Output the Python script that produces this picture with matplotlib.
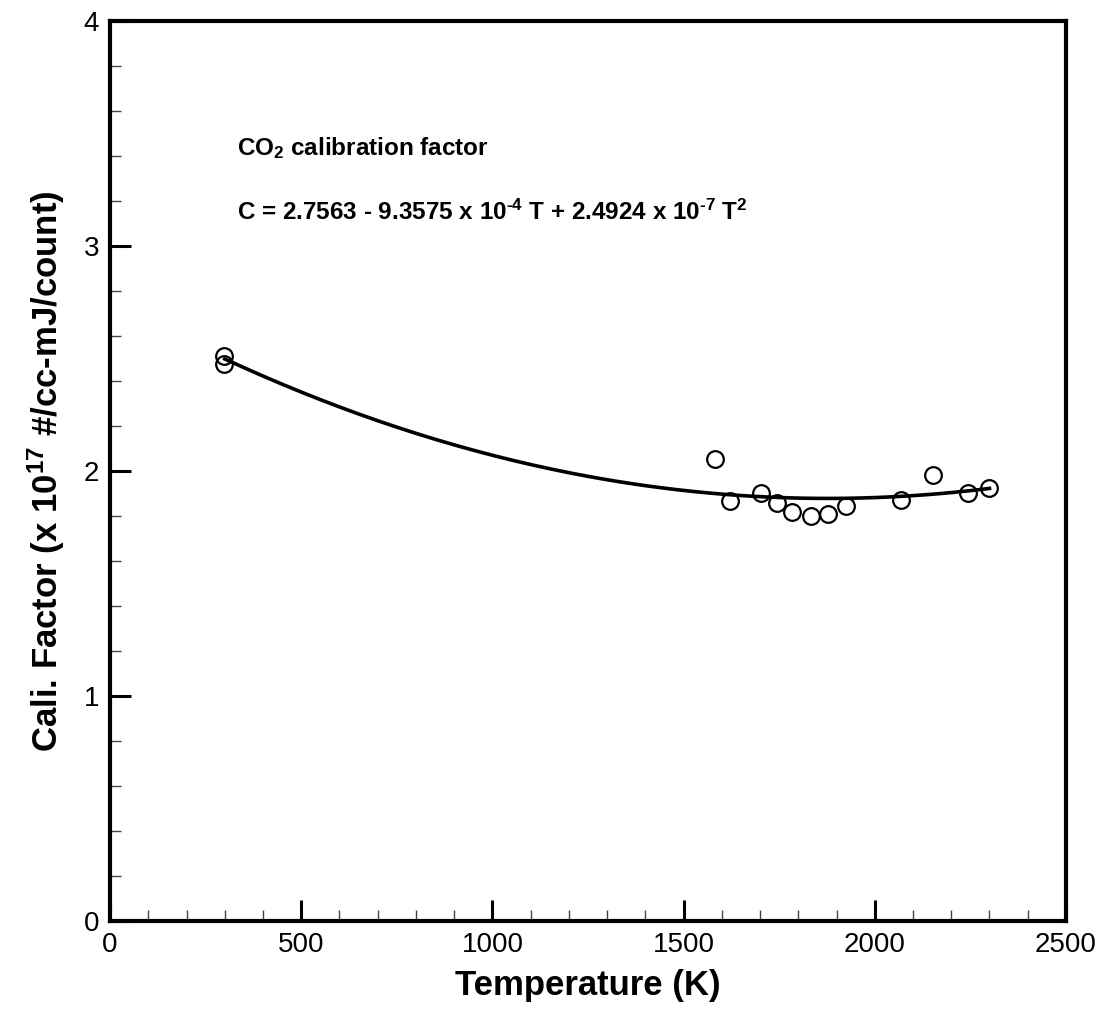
import numpy as np
import matplotlib
matplotlib.use("Agg")
import matplotlib.pyplot as plt
from matplotlib.ticker import MultipleLocator

plt.rcParams["font.family"] = ["Liberation Sans", "DejaVu Sans"]
plt.rcParams["mathtext.default"] = "regular"

# measured calibration factors
temp_k = [298, 298, 1582, 1621, 1702, 1744, 1784, 1833, 1877, 1925, 2068, 2152, 2244, 2299]
cali_factor = [2.51, 2.475, 2.053, 1.867, 1.902, 1.858, 1.818, 1.800, 1.809, 1.845,
               1.871, 1.982, 1.902, 1.925]

# fit coefficients printed on the chart (highest order first)
fit_coeffs = [2.4924e-7, -9.3575e-4, 2.7563]
fit_range = [300, 2300]

fig = plt.figure(figsize=(11.06, 10.17), dpi=100)
ax = fig.add_axes([0.0995, 0.0944, 0.8643, 0.8850])

t_fit = np.linspace(fit_range[0], fit_range[1], 200)
ax.plot(t_fit, np.polyval(fit_coeffs, t_fit), color="black", lw=2.6)
ax.plot(temp_k, cali_factor, "o", mfc="none", mec="black", ms=12, mew=1.6)

ax.set_xlim(0, 2500)
ax.set_ylim(0, 4)
ax.xaxis.set_major_locator(MultipleLocator(500))
ax.xaxis.set_minor_locator(MultipleLocator(100))
ax.yaxis.set_major_locator(MultipleLocator(1))
ax.yaxis.set_minor_locator(MultipleLocator(0.2))

for s in ax.spines.values():
    s.set_linewidth(3)
ax.tick_params(which="both", direction="in", top=False, right=False, labelsize=20)
ax.tick_params(which="major", length=15, width=2.2, pad=8)
ax.tick_params(which="minor", length=8, width=1.0, color="#444444")

ax.set_xlabel("Temperature (K)", fontsize=25, fontweight="bold", labelpad=8)
ax.set_ylabel("Cali. Factor (x 10$^{17}$ #/cc-mJ/count)", fontsize=25,
              fontweight="bold", labelpad=12)

ax.text(0.133, 0.859, "CO$_2$ calibration factor", transform=ax.transAxes,
        fontsize=17.5, fontweight="bold", va="center")
ax.text(0.133, 0.787,
        "C = 2.7563 - 9.3575 x 10$^{\u20104}$ T + 2.4924 x 10$^{\u20107}$ T$^2$",
        transform=ax.transAxes, fontsize=17.5, fontweight="bold", va="center")

fig.savefig("out.png", dpi=100)
